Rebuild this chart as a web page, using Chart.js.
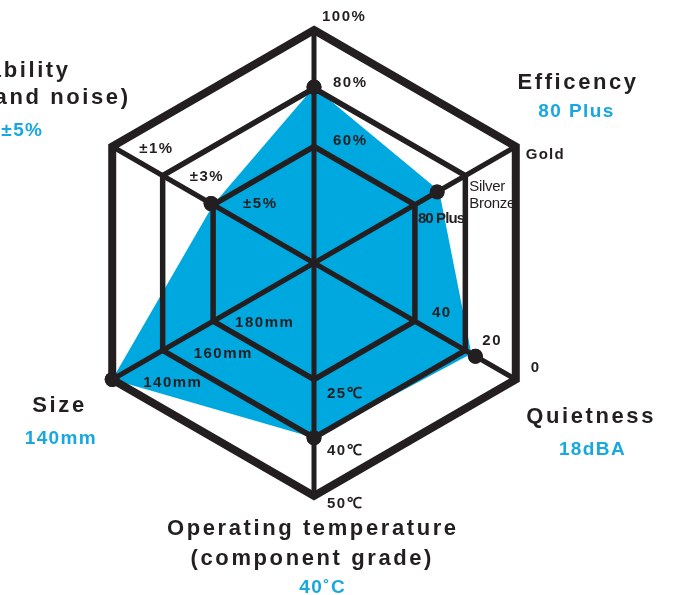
<!DOCTYPE html>
<html><head><meta charset="utf-8">
<script src="https://cdn.jsdelivr.net/npm/chart.js@4/dist/chart.umd.min.js"></script>
<style>html,body{margin:0;padding:0;background:#fff;} canvas{display:block;}</style>
</head><body>
<canvas id="c" width="674" height="595"></canvas>
<script>
// ---- data ----
const categories = ['', 'Efficency', 'Quietness', 'Operating temperature', 'Size', 'Stability'];
const subtitleLines = [[], [], [], ['(component grade)'], [], ['(ripple and noise)']];
const ratingLabels = ['', '80 Plus', '18dBA', '40˚C', '140mm', '±5%'];
const coverageValues = [0.755, 0.62, 0.78, 0.75, 1.0, 0.5];
const ratingValues = [0.755, 0.61, 0.80, 0.75, 1.0, 0.51];
const gridLevels = [0.5, 0.75, 1];
const levelLabels = [
  ['60%', '80%', '100%'],
  ['80 Plus', 'Silver\nBronze', 'Gold'],
  ['40', '20', '0'],
  ['25℃', '40℃', '50℃'],
  ['180mm', '160mm', '140mm'],
  ['±5%', '±3%', '±1%']
];

// ---- styling / layout ----
const DARK = '#231f20';
const BLUE = '#00a8e0';
const BLUE_TEXT = '#17a8e0';
const FAM = '"Liberation Sans", Arial, Helvetica, sans-serif';

const levelLabelOffsets = [
  [[19, -1.5], [19, -1], [8, -9]],
  [[3, 18], [4, 15.5], [10, 12.5]],
  [[17, -4], [17, -5], [15, -7.5]],
  [[13, 18.5], [13, 17], [13, 12]],
  [[22, 6], [31, 7.5], [31, 7.5]],
  [[30, 3], [27, 5.5], [27, 6.5]]
];
// title anchor offsets from outer vertex: lines then value
const titleLayout = [
  null,
  {align: 'center', lines: [[61, -57.5]], value: [60, -29.5]},
  {align: 'center', lines: [[74, 43.5]], value: [76, 75.5]},
  {align: 'center', lines: [[-2.5, 39], [-3, 69]], value: [8, 97]},
  {align: 'center', lines: [[-54, 32.5]], value: [-52, 64.5]},
  {align: 'right', lines: [[-44.2, -69.5], [15.8, -42.5]], value: [-70.2, -10.5]}
];

function drawText(ctx, text, x, y, font, color, spacing, align) {
  ctx.font = font;
  ctx.fillStyle = color;
  ctx.letterSpacing = spacing + 'px';
  ctx.textAlign = align;
  ctx.textBaseline = 'alphabetic';
  let dx = 0;
  if (align === 'center') dx = spacing / 2;
  else if (align === 'right') dx = spacing;
  ctx.fillText(text, x + dx, y);
}

const overlayPlugin = {
  id: 'overlay',
  afterDraw(chart) {
    const ctx = chart.ctx;
    const scale = chart.scales.r;
    ctx.save();
    // markers on top of grid
    const meta = chart.getDatasetMeta(1);
    meta.data.forEach(el => el.draw(ctx, chart.chartArea));

    // level labels
    levelLabels.forEach((labels, i) => {
      labels.forEach((lab, k) => {
        const p = scale.getPointPositionForValue(i, gridLevels[k]);
        const [ox, oy] = levelLabelOffsets[i][k];
        let font = 'bold 15px ' + FAM, sp = 1.5;
        if (i === 1) {
          if (k === 0) { font = 'bold 15px ' + FAM; sp = -0.9; }
          else if (k === 1) { font = '15px ' + FAM; sp = -0.3; }
          else { font = 'bold 15px ' + FAM; sp = 1.2; }
        }
        lab.split('\n').forEach((line, j) => {
          drawText(ctx, line, p.x + ox, p.y + oy + j * 17, font, DARK, sp, 'left');
        });
      });
    });

    // axis titles and values
    categories.forEach((cat, i) => {
      const lay = titleLayout[i];
      if (!lay || !cat) return;
      const p = scale.getPointPositionForValue(i, 1);
      const lines = [cat].concat(subtitleLines[i]);
      lines.forEach((line, j) => {
        const [ox, oy] = lay.lines[j];
        drawText(ctx, line, p.x + ox, p.y + oy, 'bold 22px ' + FAM, DARK, 2.6, lay.align);
      });
      const [vx, vy] = lay.value;
      drawText(ctx, ratingLabels[i], p.x + vx, p.y + vy, 'bold 19px ' + FAM, BLUE_TEXT, 1.4, lay.align);
    });
    ctx.restore();
  }
};

new Chart(document.getElementById('c'), {
  type: 'radar',
  data: {
    labels: categories,
    datasets: [
      {
        label: 'coverage',
        data: coverageValues,
        backgroundColor: BLUE,
        borderColor: 'rgba(0,0,0,0)',
        borderWidth: 0,
        fill: true,
        pointRadius: 0,
        pointHoverRadius: 0
      },
      {
        label: 'rating',
        data: ratingValues,
        showLine: false,
        fill: false,
        borderWidth: 0,
        pointRadius: 7.5,
        pointBorderWidth: 0,
        pointBackgroundColor: DARK,
        pointBorderColor: DARK
      }
    ]
  },
  options: {
    responsive: false,
    animation: false,
    events: [],
    layout: {padding: {left: 81, right: 127, top: 30, bottom: 99}},
    plugins: {legend: {display: false}, tooltip: {enabled: false}},
    scales: {
      r: {
        min: 0,
        max: 1,
        ticks: {display: false, stepSize: 0.25},
        afterBuildTicks: s => { s.ticks = [{value: 0}].concat(gridLevels.map(v => ({value: v}))); },
        grid: {
          circular: false,
          color: DARK,
          lineWidth: c => (c.tick && c.tick.value === 1) ? 8 : 5.5,
          z: 1
        },
        angleLines: {display: true, color: DARK, lineWidth: 5},
        pointLabels: {display: false}
      }
    }
  },
  plugins: [overlayPlugin]
});
</script>
</body></html>
